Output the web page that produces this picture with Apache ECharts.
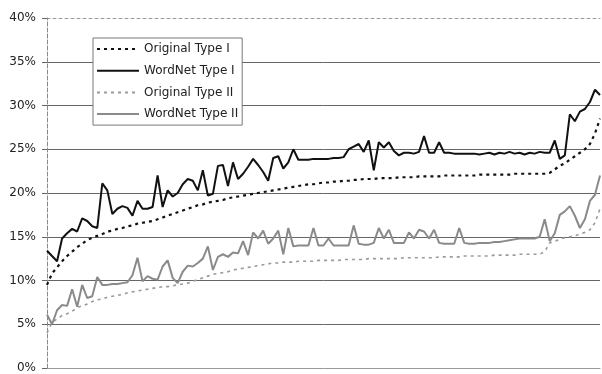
<!DOCTYPE html>
<html>
<head>
<meta charset="utf-8">
<script src="https://cdn.jsdelivr.net/npm/echarts@6/dist/echarts.min.js"></script>
<style>
  html, body { margin: 0; padding: 0; background: #fff; }
  #chart { width: 602px; height: 374px; }
</style>
</head>
<body>
<div id="chart"></div>
<script>
// values in percent, one per document (sorted by original score)
const originalType1 = [
  9.5, 10.8, 11.5, 12.2, 12.8, 13.3, 13.8, 14.2, 14.6, 14.9,
  15.1, 15.3, 15.6, 15.7, 15.9, 16.0, 16.2, 16.3, 16.5, 16.6,
  16.7, 16.8, 17.0, 17.2, 17.4, 17.6, 17.8, 18.0, 18.2, 18.4,
  18.6, 18.7, 18.9, 19.0, 19.1, 19.2, 19.4, 19.5, 19.6, 19.7,
  19.8, 19.9, 20.0, 20.1, 20.2, 20.3, 20.4, 20.5, 20.6, 20.7,
  20.8, 20.9, 21.0, 21.0, 21.1, 21.2, 21.2, 21.3, 21.3, 21.4,
  21.4, 21.5, 21.5, 21.6, 21.6, 21.6, 21.7, 21.7, 21.7, 21.7,
  21.8, 21.8, 21.8, 21.8, 21.9, 21.9, 21.9, 21.9, 21.9, 22.0,
  22.0, 22.0, 22.0, 22.0, 22.0, 22.0, 22.1, 22.1, 22.1, 22.1,
  22.1, 22.1, 22.1, 22.2, 22.2, 22.2, 22.2, 22.2, 22.2, 22.2,
  22.3, 22.7, 23.1, 23.4, 23.8, 24.2, 24.6, 25.0, 25.6, 26.8, 28.5
];
const wordnetType1 = [
  13.4, 12.8, 12.2, 14.8, 15.4, 15.9, 15.6, 17.1, 16.8, 16.2,
  16.0, 21.1, 20.3, 17.6, 18.2, 18.5, 18.3, 17.4, 19.1, 18.2,
  18.2, 18.4, 22.0, 18.4, 20.3, 19.6, 20.0, 21.0, 21.6, 21.4,
  20.3, 22.6, 19.7, 19.9, 23.1, 23.2, 20.8, 23.5, 21.6, 22.2,
  23.0, 23.9, 23.2, 22.4, 21.4, 24.0, 24.2, 22.8, 23.5, 25.0,
  23.8, 23.8, 23.8, 23.9, 23.9, 23.9, 23.9, 24.0, 24.0, 24.1,
  25.0, 25.3, 25.6, 24.7, 26.0, 22.6, 25.8, 25.2, 25.8, 24.8,
  24.3, 24.6, 24.6, 24.5, 24.7, 26.5, 24.6, 24.6, 25.8, 24.6,
  24.6, 24.5, 24.5, 24.5, 24.5, 24.5, 24.4, 24.5, 24.6, 24.4,
  24.6, 24.5, 24.7, 24.5, 24.6, 24.4, 24.6, 24.5, 24.7, 24.6,
  24.6, 26.0, 23.9, 24.3, 29.0, 28.2, 29.3, 29.6, 30.4, 31.8, 31.2
];
const originalType2 = [
  4.0, 5.2, 5.6, 6.0, 6.2, 6.5, 6.9, 7.1, 7.3, 7.6,
  7.8, 7.9, 8.1, 8.2, 8.3, 8.4, 8.6, 8.7, 8.8, 8.9,
  9.0, 9.1, 9.2, 9.3, 9.3, 9.4, 9.5, 9.6, 9.7, 9.9,
  10.1, 10.3, 10.5, 10.7, 10.8, 10.9, 11.0, 11.2, 11.3, 11.4,
  11.5, 11.6, 11.7, 11.8, 11.9, 12.0, 12.0, 12.1, 12.1, 12.1,
  12.2, 12.2, 12.2, 12.2, 12.3, 12.3, 12.3, 12.3, 12.3, 12.4,
  12.4, 12.4, 12.4, 12.4, 12.5, 12.5, 12.5, 12.5, 12.5, 12.5,
  12.5, 12.6, 12.6, 12.6, 12.6, 12.6, 12.6, 12.6, 12.7, 12.7,
  12.7, 12.7, 12.7, 12.8, 12.8, 12.8, 12.8, 12.8, 12.8, 12.9,
  12.9, 12.9, 12.9, 12.9, 13.0, 13.0, 13.0, 13.0, 13.0, 13.3,
  14.3, 14.5, 14.7, 14.9, 15.0, 15.1, 15.3, 15.5, 15.8, 16.6, 18.2
];
const wordnetType2 = [
  6.1, 5.0, 6.6, 7.2, 7.1, 9.0, 7.0, 9.5, 8.0, 8.2,
  10.4, 9.5, 9.5, 9.6, 9.6, 9.7, 9.8, 10.6, 12.6, 9.9,
  10.5, 10.2, 10.1, 11.6, 12.3, 10.3, 9.7, 11.0, 11.7, 11.6,
  12.0, 12.5, 13.9, 11.2, 12.7, 13.0, 12.7, 13.2, 13.1, 14.5,
  12.9, 15.5, 14.8, 15.7, 14.2, 14.8, 15.7, 13.0, 16.0, 13.9,
  14.0, 14.0, 14.0, 16.0, 14.0, 14.0, 14.8, 14.0, 14.0, 14.0,
  14.0, 16.3, 14.2, 14.1, 14.1, 14.3, 16.0, 14.8, 15.8, 14.3,
  14.3, 14.3, 15.5, 14.8, 15.8, 15.6, 14.8, 15.8, 14.3, 14.2,
  14.2, 14.2, 16.0, 14.3, 14.2, 14.2, 14.3, 14.3, 14.3, 14.4,
  14.4, 14.5, 14.6, 14.7, 14.8, 14.8, 14.8, 14.8, 15.0, 17.0,
  14.5, 15.4, 17.5, 17.9, 18.5, 17.4, 16.0, 17.0, 19.1, 19.8, 22.0
];
const categories = originalType1.map((_, i) => String(i + 1));
const yTicks = [0, 5, 10, 15, 20, 25, 30, 35, 40];

const dom = document.getElementById("chart");
const myChart = echarts.init(dom, null, { renderer: "canvas" });

const option = {
  animation: false,
  backgroundColor: "#fff",
  textStyle: { fontFamily: "DejaVu Sans, sans-serif" },
  grid: { left: 47, right: 2, top: 18, bottom: 3 },
  legend: {
    orient: "vertical",
    left: 93,
    top: 38,
    backgroundColor: "#fff",
    borderColor: "#777",
    borderWidth: 1,
    padding: [5, 4, 5, 3],
    itemWidth: 42,
    itemHeight: 12,
    itemGap: 9.7,
    itemStyle: { opacity: 0 },
    textStyle: { fontSize: 12, color: "#222", lineHeight: 12 },
    data: ["Original Type I", "WordNet Type I", "Original Type II", "WordNet Type II"],
  },
  xAxis: [
    {
      type: "category",
      boundaryGap: false,
      data: categories,
      axisLine: { lineStyle: { color: "#999", width: 1 } },
      axisTick: { show: false },
      axisLabel: { show: false },
      splitLine: { show: false },
    },
    {
      type: "category",
      position: "top",
      boundaryGap: false,
      data: categories,
      axisLine: { lineStyle: { color: "#999", width: 1, type: [3, 3] } },
      axisTick: { show: false },
      axisLabel: { show: false },
    },
  ],
  yAxis: {
    type: "value",
    min: yTicks[0],
    max: yTicks[yTicks.length - 1],
    interval: 5,
    axisLine: { show: true, lineStyle: { color: "#888", width: 1, type: [4, 2] } },
    axisTick: { show: true, length: 5, lineStyle: { color: "#666" } },
    axisLabel: {
      formatter: "{value}%",
      fontSize: 12,
      color: "#222",
      margin: 11,
    },
    splitLine: {
      lineStyle: {
        color: ["transparent", "#666", "#666", "#666", "#666", "#666", "#666", "#666", "transparent"],
        width: 1,
      },
    },
  },
  series: [
    {
      name: "Original Type I",
      type: "line",
      data: originalType1,
      symbol: "none",
      lineStyle: { color: "#111", width: 2.2, type: [3, 4] },
      itemStyle: { color: "#111" },
      z: 3,
    },
    {
      name: "WordNet Type I",
      type: "line",
      data: wordnetType1,
      symbol: "none",
      lineStyle: { color: "#111", width: 2 },
      itemStyle: { color: "#111" },
      z: 4,
    },
    {
      name: "Original Type II",
      type: "line",
      data: originalType2,
      symbol: "none",
      lineStyle: { color: "#9a9a9a", width: 1.6, type: [3, 4] },
      itemStyle: { color: "#9a9a9a" },
      z: 2,
    },
    {
      name: "WordNet Type II",
      type: "line",
      data: wordnetType2,
      symbol: "none",
      lineStyle: { color: "#8a8a8a", width: 2 },
      itemStyle: { color: "#8a8a8a" },
      z: 2,
    },
  ],
};

myChart.setOption(option);
</script>
</body>
</html>
